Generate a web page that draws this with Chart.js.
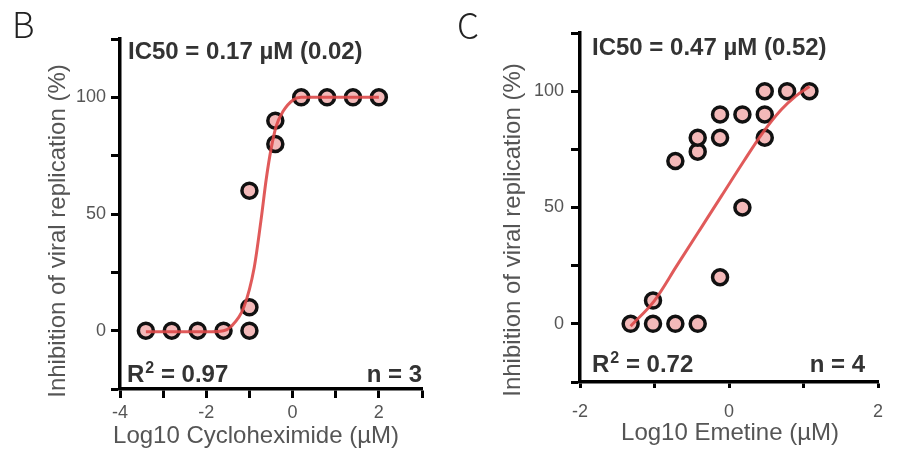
<!DOCTYPE html>
<html>
<head>
<meta charset="utf-8">
<script src="https://cdn.jsdelivr.net/npm/chart.js@4"></script>
<style>
  body { margin: 0; background: #fff; }
  #wrap { display: flex; width: 900px; height: 468px; }
  canvas { display: block; }
</style>
</head>
<body>
<div id="wrap">
  <canvas id="chartB" width="450" height="468"></canvas>
  <canvas id="chartC" width="450" height="468"></canvas>
</div>
<script>
// Panel B - cycloheximide
const cycloX = [-3.4, -2.8, -2.2, -1.6, -1.0, -1.0, -1.0, -0.4, -0.4, 0.2, 0.8, 1.4, 2.0];
const cycloY = [0, 0, 0, 0, 0, 10, 60, 90, 80, 100, 100, 100, 100];
const cycloFitX = [-3.4, -2.6, -2.0, -1.6, -1.43, -1.13, -0.89, -0.73, -0.61, -0.5, -0.38, -0.22, 0.02, 0.2, 0.8, 1.4, 2.0];
const cycloFitY = [-0.5, -0.5, -0.5, 0, 1.7, 10, 27, 47.6, 65, 77.7, 87.6, 94, 99, 100, 100, 100, 100];
const cycloXLabels = [-4, -2, 0, 2];

// Panel C - emetine
const emetineX = [-1.32, -1.02, -1.02, -0.72, -0.72, -0.42, -0.42, -0.42, -0.12, -0.12, -0.12, 0.18, 0.18, 0.48, 0.48, 0.48, 0.78, 1.08];
const emetineY = [0, 0, 10, 0, 70, 0, 74, 80, 20, 80, 90, 50, 90, 80, 90, 100, 100, 100];
const emetineFitX = [-1.32, -1.0, -0.7, -0.4, -0.1, 0.2, 0.45, 0.7, 0.9, 1.08];
const emetineFitY = [-1, 10, 25, 40, 55, 70, 82, 92, 98, 102];
const emetineXLabels = [-2, 0, 2];

const yLabels = [0, 50, 100];

const lineRed = 'rgba(221,72,72,0.9)';
const pointPink = '#f3b9b9';
const tickGray = '#555';

function toPoints(xs, ys) {
  return xs.map((x, i) => ({ x: x, y: ys[i] }));
}

// tick labels and annotation text drawn on top of each panel
function panelText(t) {
  return {
    id: 'panelText',
    afterDraw(chart) {
      const ctx = chart.ctx;
      const area = chart.chartArea;
      const xScale = chart.scales.x;
      const yScale = chart.scales.y;
      ctx.save();

      // tick labels, placed with the chart's own scales
      ctx.fillStyle = tickGray;
      ctx.font = '18px "Liberation Sans"';
      ctx.textBaseline = 'middle';
      ctx.textAlign = 'right';
      yLabels.forEach(v => ctx.fillText(String(v), area.left - t.yLabelGap, yScale.getPixelForValue(v)));
      ctx.textAlign = 'center';
      t.xLabels.forEach(v => ctx.fillText(String(v), xScale.getPixelForValue(v), area.bottom + t.xLabelGap));

      ctx.textBaseline = 'alphabetic';
      ctx.fillStyle = '#222';
      ctx.textAlign = 'left';
      ctx.font = '300 35px "Noto Sans CJK SC", "Noto Sans"';
      ctx.fillText(t.letter, t.letterX, t.letterY);

      ctx.fillStyle = '#333';
      ctx.font = 'bold 24px "Liberation Sans"';
      ctx.fillText(t.ic50, t.ic50X, t.ic50Y);

      // R squared with superscript
      ctx.fillText('R', t.r2X, t.r2Y);
      const wR = ctx.measureText('R').width;
      ctx.font = 'bold 16px "Liberation Sans"';
      ctx.fillText('2', t.r2X + wR + 1, t.r2Y - 9);
      const w2 = ctx.measureText('2').width;
      ctx.font = 'bold 24px "Liberation Sans"';
      ctx.fillText(' = ' + t.r2, t.r2X + wR + w2 + 1, t.r2Y);

      ctx.textAlign = 'right';
      ctx.fillText('n = ' + t.n, t.nX, t.nY);

      // axis titles
      ctx.fillStyle = '#555';
      ctx.font = '24px "Liberation Sans"';
      ctx.textAlign = 'center';
      ctx.fillText(t.xTitle, t.xTitleX, t.xTitleY);

      ctx.translate(t.yTitleX, t.yTitleY);
      ctx.rotate(-Math.PI / 2);
      ctx.fillText('Inhibition of viral replication (%)', 0, 0);
      ctx.restore();
    }
  };
}

function makeChart(id, p) {
  return new Chart(document.getElementById(id), {
    type: 'scatter',
    data: {
      datasets: [
        {
          type: 'line',
          data: toPoints(p.fitX, p.fitY),
          borderColor: lineRed,
          borderWidth: 3,
          pointRadius: 0,
          cubicInterpolationMode: 'monotone',
          fill: false
        },
        {
          data: toPoints(p.x, p.y),
          backgroundColor: pointPink,
          borderColor: '#111',
          borderWidth: 3.5,
          pointRadius: 7.5
        }
      ]
    },
    options: {
      responsive: false,
      animation: false,
      layout: { padding: p.padding },
      plugins: {
        legend: { display: false },
        tooltip: { enabled: false }
      },
      scales: {
        x: {
          type: 'linear',
          min: p.xMin,
          max: p.xMax,
          afterFit: s => { s.height = 60; },
          ticks: { stepSize: 1, autoSkip: false, maxRotation: 0, display: false },
          grid: { drawOnChartArea: false, tickLength: p.xTickLen, tickColor: '#000', tickWidth: 3 },
          border: { color: '#000', width: 3.5 }
        },
        y: {
          type: 'linear',
          min: -25,
          max: 125,
          afterFit: s => { s.width = p.yWidth; },
          ticks: { stepSize: 25, autoSkip: false, display: false },
          grid: { drawOnChartArea: false, tickLength: 9, tickColor: '#000', tickWidth: 3 },
          border: { color: '#000', width: 3.5 }
        }
      }
    },
    plugins: [panelText(p.text)]
  });
}

makeChart('chartB', {
  x: cycloX, y: cycloY, fitX: cycloFitX, fitY: cycloFitY,
  xMin: -4, xMax: 3,
  padding: { left: 0, top: 39, right: 28, bottom: 19 },
  yWidth: 120, xTickLen: 9,
  text: {
    xLabels: cycloXLabels, xLabelGap: 24, yLabelGap: 14,
    letter: 'B', letterX: 12, letterY: 38,
    ic50: 'IC50 = 0.17 µM (0.02)', ic50X: 128, ic50Y: 59,
    r2: '0.97', r2X: 127, r2Y: 382,
    n: '3', nX: 422, nY: 382,
    xTitle: 'Log10 Cycloheximide (µM)', xTitleX: 256, xTitleY: 443,
    yTitleX: 65, yTitleY: 231
  }
});

makeChart('chartC', {
  x: emetineX, y: emetineY, fitX: emetineFitX, fitY: emetineFitY,
  xMin: -2, xMax: 2,
  padding: { left: 0, top: 33, right: 22, bottom: 26 },
  yWidth: 130, xTickLen: 6,
  text: {
    xLabels: emetineXLabels, xLabelGap: 30, yLabelGap: 16,
    letter: 'C', letterX: 7, letterY: 39,
    ic50: 'IC50 = 0.47 µM (0.52)', ic50X: 142, ic50Y: 55,
    r2: '0.72', r2X: 142, r2Y: 372,
    n: '4', nX: 415, nY: 372,
    xTitle: 'Log10 Emetine (µM)', xTitleX: 280, xTitleY: 440,
    yTitleX: 70, yTitleY: 230
  }
});
</script>
</body>
</html>
